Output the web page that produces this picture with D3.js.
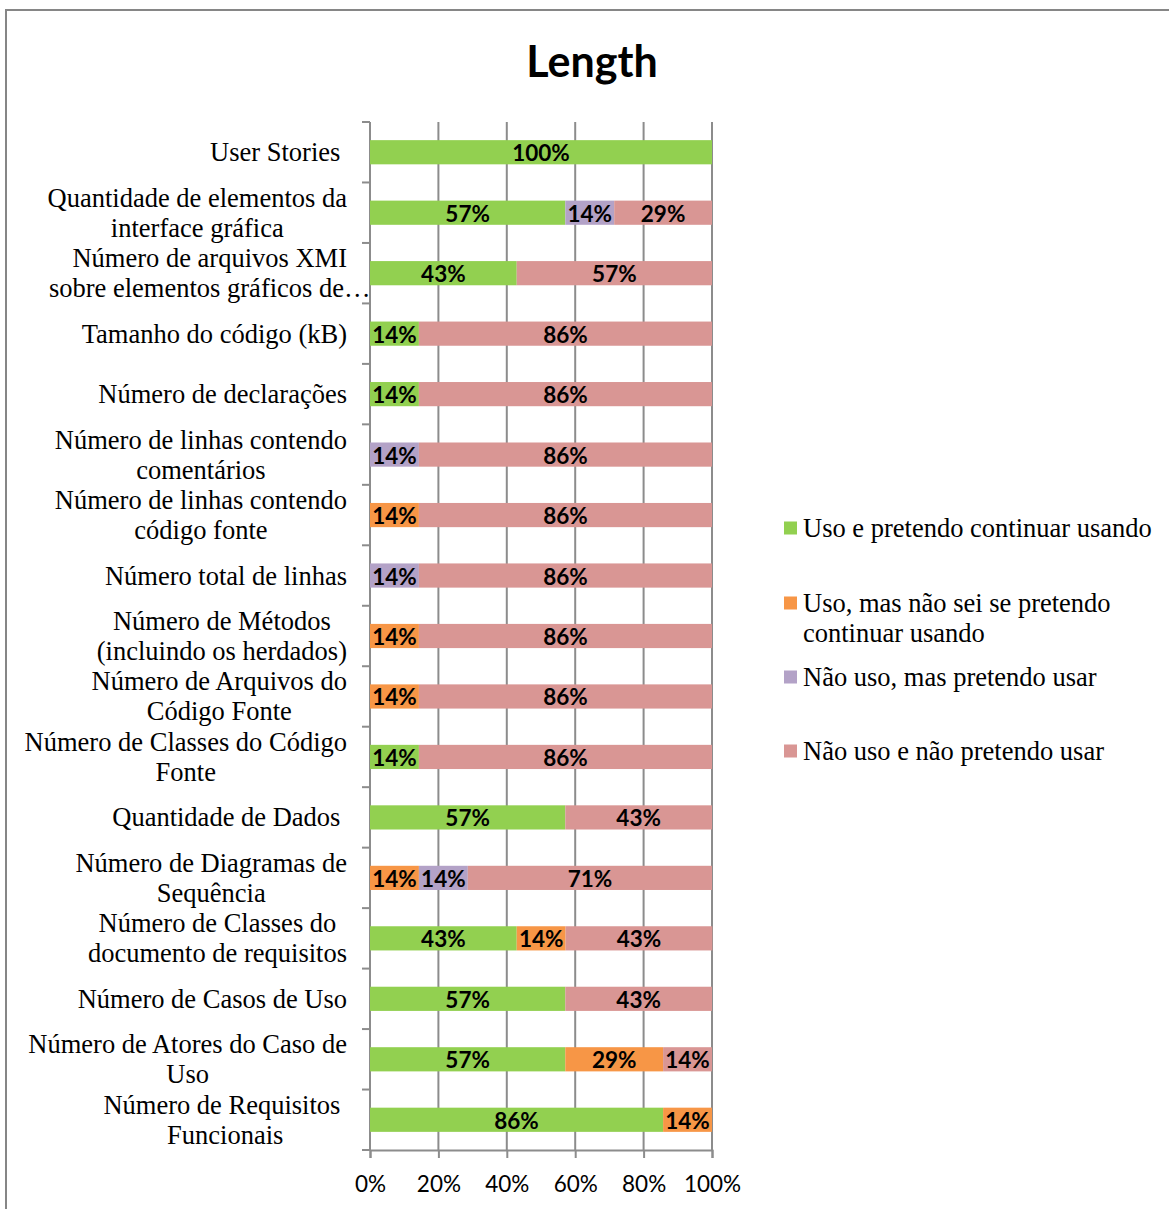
<!DOCTYPE html>
<html>
<head>
<meta charset="utf-8">
<script src="https://cdn.jsdelivr.net/npm/d3@7"></script>
<style>
  html, body { margin: 0; padding: 0; background: #fff; }
  svg { display: block; }
  .cat text, .legend text { font-family: "Liberation Serif", "Times New Roman", serif; }
</style>
</head>
<body>
<div id="chart"></div>
<script>
// categories, top to bottom ("\n" = line break as in the original chart)
var categories = [
  "User Stories ",
  "Quantidade de elementos da\ninterface gráfica",
  "Número de arquivos XMI\nsobre elementos gráficos de…",
  "Tamanho do código (kB)",
  "Número de declarações",
  "Número de linhas contendo\ncomentários",
  "Número de linhas contendo\ncódigo fonte",
  "Número total de linhas",
  "Número de Métodos\n(incluindo os herdados)",
  "Número de Arquivos do\nCódigo Fonte",
  "Número de Classes do Código\nFonte",
  "Quantidade de Dados ",
  "Número de Diagramas de\nSequência",
  "Número de Classes do\ndocumento de requisitos",
  "Número de Casos de Uso",
  "Número de Atores do Caso de\nUso",
  "Número de Requisitos \nFuncionais"
];

var seriesNames = [
  "Uso e pretendo continuar usando",
  "Uso, mas não sei se pretendo\ncontinuar usando",
  "Não uso, mas pretendo usar",
  "Não uso e não pretendo usar"
];
var seriesColors = ["#92d050", "#f79646", "#b3a2c7", "#d99694"];

// percentages per series, same order as categories
var usoContinuar    = [100, 57.1, 42.9, 14.3, 14.3, 0, 0, 0, 0, 0, 14.3, 57.1, 0, 42.9, 57.1, 57.1, 85.7];
var usoNaoSei       = [0, 0, 0, 0, 0, 0, 14.3, 0, 14.3, 14.3, 0, 0, 14.3, 14.3, 0, 28.6, 14.3];
var naoUsoPretendo  = [0, 14.3, 0, 0, 0, 14.3, 0, 14.3, 0, 0, 0, 0, 14.3, 0, 0, 0, 0];
var naoUsoNao       = [0, 28.6, 57.1, 85.7, 85.7, 85.7, 85.7, 85.7, 85.7, 85.7, 85.7, 42.9, 71.4, 42.9, 42.9, 14.3, 0];

var xTicks = [0, 20, 40, 60, 80, 100];

var width = 1169, height = 1209;
var plot = { left: 370, right: 712, top: 122, bottom: 1150 };
var labelRight = 347;

var rows = categories.map(function (c, i) {
  return { cat: c, s0: usoContinuar[i], s1: usoNaoSei[i], s2: naoUsoPretendo[i], s3: naoUsoNao[i] };
});
var keys = ["s0", "s1", "s2", "s3"];
var stacked = d3.stack().keys(keys)(rows);

var x = d3.scaleLinear().domain([0, 100]).range([plot.left, plot.right]);
var y = d3.scaleBand().domain(categories).range([plot.top, plot.bottom]).padding(0);
var barH = y.bandwidth() * 0.4;

var svg = d3.select("#chart").append("svg")
  .attr("width", width)
  .attr("height", height);

// outer chart frame (runs past the right and bottom edges)
svg.append("rect")
  .attr("x", 6).attr("y", 10)
  .attr("width", width + 20).attr("height", height + 20)
  .attr("fill", "#fff")
  .attr("stroke", "#868686")
  .attr("stroke-width", 2);

// title
svg.append("text")
  .attr("x", 592).attr("y", 77)
  .attr("text-anchor", "middle")
  .style("font-family", "Lato, 'Open Sans', sans-serif")
  .style("font-weight", "bold")
  .style("font-size", "43px")
  .text("Length");

// vertical gridlines
svg.append("g").selectAll("line")
  .data(xTicks.slice(1))
  .enter().append("line")
  .attr("x1", function (d) { return x(d); })
  .attr("x2", function (d) { return x(d); })
  .attr("y1", plot.top)
  .attr("y2", plot.bottom)
  .attr("stroke", "#8c8c8c")
  .attr("stroke-width", 2);

// bottom axis
var xAxis = d3.axisBottom(x)
  .tickValues(xTicks)
  .tickSize(8)
  .tickFormat(function (d) { return d + "%"; });
var gx = svg.append("g")
  .attr("transform", "translate(0," + plot.bottom + ")")
  .call(xAxis);
gx.select(".domain").attr("stroke", "#8c8c8c").attr("stroke-width", 2);
gx.selectAll(".tick line").attr("stroke", "#8c8c8c").attr("stroke-width", 2);
gx.selectAll(".tick text")
  .attr("y", 0).attr("dy", 0)
  .attr("transform", "translate(0,42)")
  .style("font-family", "Lato, 'Open Sans', sans-serif")
  .style("font-size", "22.5px")
  .attr("fill", "#000");

// left axis with ticks at category boundaries
var boundaries = categories.map(function (c) { return y(c); }).concat([plot.bottom]);
svg.append("line")
  .attr("x1", plot.left).attr("x2", plot.left)
  .attr("y1", plot.top).attr("y2", plot.bottom)
  .attr("stroke", "#8c8c8c").attr("stroke-width", 2);
svg.append("g").selectAll("line")
  .data(boundaries)
  .enter().append("line")
  .attr("x1", plot.left - 8).attr("x2", plot.left)
  .attr("y1", function (d) { return d; })
  .attr("y2", function (d) { return d; })
  .attr("stroke", "#8c8c8c").attr("stroke-width", 2);

// bars
var layers = svg.append("g").selectAll("g")
  .data(stacked)
  .enter().append("g")
  .attr("fill", function (d, i) { return seriesColors[i]; });

layers.selectAll("rect")
  .data(function (d) { return d.filter(function (p) { return p[1] - p[0] > 0; }); })
  .enter().append("rect")
  .attr("x", function (p) { return x(p[0]); })
  .attr("width", function (p) { return x(p[1]) - x(p[0]); })
  .attr("y", function (p) { return y(p.data.cat) + (y.bandwidth() - barH) / 2; })
  .attr("height", barH);

// bar value labels
var fmt = d3.format(".0f");
layers.selectAll("text")
  .data(function (d) { return d.filter(function (p) { return p[1] - p[0] > 0; }); })
  .enter().append("text")
  .attr("x", function (p) { return (x(p[0]) + x(p[1])) / 2; })
  .attr("y", function (p) { return y(p.data.cat) + y.bandwidth() / 2 + 9; })
  .attr("text-anchor", "middle")
  .attr("fill", "#000")
  .style("font-family", "Lato, 'Open Sans', sans-serif")
  .style("font-weight", "bold")
  .style("font-size", "22.5px")
  .text(function (p) { return fmt(p[1] - p[0]) + "%"; });

// category labels: wrapped lines centred in a block that is right-aligned
var lineH = 30;
var cats = svg.append("g").attr("class", "cat");
categories.forEach(function (c) {
  var lines = c.split("\n");
  var g = cats.append("g");
  var texts = lines.map(function (ln, i) {
    return g.append("text")
      .style("font-size", "26.5px")
      .style("white-space", "pre")
      .attr("fill", "#000")
      .attr("text-anchor", "middle")
      .attr("y", y(c) + y.bandwidth() / 2 + 9 + (i - (lines.length - 1) / 2) * lineH)
      .text(ln);
  });
  var maxW = 0;
  texts.forEach(function (t, i) {
    if (lines[i].slice(-1) !== "…") maxW = Math.max(maxW, t.node().getComputedTextLength());
  });
  var cx = labelRight - maxW / 2;
  texts.forEach(function (t) { t.attr("x", cx); });
});

// legend
var legendY = [528, 603, 677, 751];
var legend = svg.append("g").attr("class", "legend");
seriesNames.forEach(function (name, i) {
  var g = legend.append("g").attr("transform", "translate(784," + legendY[i] + ")");
  g.append("rect")
    .attr("x", 0).attr("y", -6.5)
    .attr("width", 13).attr("height", 13)
    .attr("fill", seriesColors[i]);
  name.split("\n").forEach(function (ln, j) {
    g.append("text")
      .attr("x", 19)
      .attr("y", 9 + j * lineH)
      .style("font-size", "26.5px")
      .attr("fill", "#000")
      .text(ln);
  });
});
</script>
</body>
</html>
